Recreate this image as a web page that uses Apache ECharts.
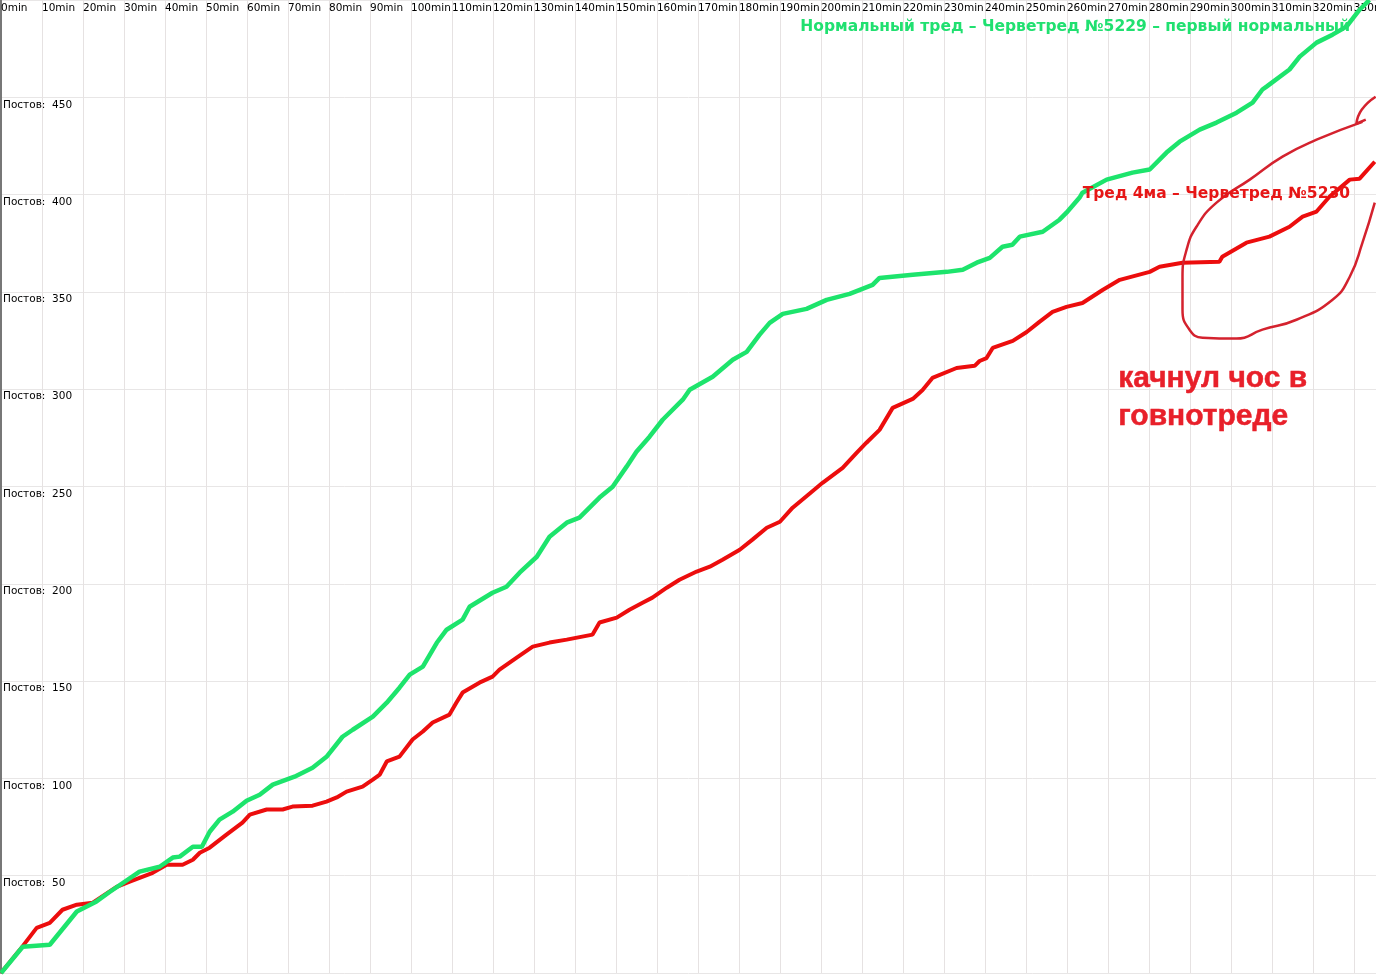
<!DOCTYPE html>
<html>
<head>
<meta charset="utf-8">
<script src="https://cdn.jsdelivr.net/npm/echarts@6/dist/echarts.min.js"></script>
<style>html,body{margin:0;padding:0;background:#fff;}#c{width:1376px;height:975px;}</style>
</head>
<body>
<div id="c"></div>
<script>
// time (minutes) / posts pairs
const normalThread = [
 [0,0],[5.3,13.5],[11.9,14.5],[18.5,31.6],[23.3,36.8],[26.4,41.5],[33.8,52.1],[38.7,54.6],[41.9,59.3],[43.6,59.8],
 [46.8,64.9],[49.0,64.9],[50.9,72.6],[53.3,78.8],[56.5,82.9],[59.9,88.5],[63.1,91.6],[66.3,96.8],[71.6,100.9],[76.0,105.5],
 [79.4,111.1],[83.3,121.4],[85.8,125.0],[90.7,131.7],[94.1,138.9],[97.2,146.6],[99.7,153.3],[102.9,157.4],[106.3,169.7],[108.7,176.4],
 [112.6,181.6],[114.3,188.2],[119.9,195.4],[123.3,198.5],[126.5,205.7],[130.7,213.9],[133.8,224.2],[138.0,231.4],[141.1,234.0],[146.0,244.3],
 [149.2,249.9],[152.6,260.2],[155.0,267.9],[158.2,275.6],[161.4,284.3],[166.3,294.6],[168.0,299.7],[173.6,306.4],[178.5,315.1],[181.9,319.2],
 [185.0,327.9],[187.5,334.1],[190.7,338.7],[196.5,341.3],[201.4,345.9],[207.0,349.0],[212.6,353.6],[214.3,357.2],[222.4,358.8],[230.7,360.3],
 [234.6,361.4],[238.0,365.0],[241.2,367.5],[244.3,373.2],[246.7,374.2],[248.5,378.4],[254.1,380.9],[258.2,387.1],[259.9,390.7],[263.1,398.5],
 [263.8,401.0],[269.7,407.7],[276.0,411.3],[280.2,412.9],[284.3,421.6],[287.5,427.2],[292.4,433.4],[296.5,437.0],[301.4,442.1],[305.3,447.3],
 [307.7,454.0],[308.7,455.5],[314.3,464.3],[316.8,470.9],[320.9,478.1],[324.8,482.2],[328.2,486.3],[331.4,495.0],[333.8,500.0]
];
const fourThread = [
 [0,0],[4.6,11.9],[8.7,23.2],[11.9,25.8],[15.0,32.5],[18.5,35.1],[22.4,36.1],[28.2,44.3],[31.4,46.9],[37.0,51.5],
 [40.4,55.6],[44.3,55.6],[46.8,58.2],[48.5,61.8],[50.9,64.4],[55.0,71.1],[58.9,77.3],[60.7,81.4],[64.8,84.0],[68.7,84.0],
 [71.1,85.5],[76.0,86.0],[79.4,88.1],[81.9,90.2],[84.3,93.2],[88.2,95.8],[90.7,99.4],[92.4,102.0],[94.1,108.7],[97.2,111.2],
 [100.4,120.0],[102.9,124.1],[105.3,128.7],[109.4,132.8],[111.1,139.0],[112.6,144.1],[116.7,149.2],[119.9,152.3],[121.6,155.9],[125.8,162.1],
 [129.7,167.7],[133.8,169.8],[138.0,171.3],[144.3,173.9],[146.0,180.1],[150.2,182.6],[153.3,186.7],[156.5,190.3],[158.9,192.9],[162.4,198.0],
 [165.5,202.1],[169.7,206.3],[172.9,208.8],[176.0,212.4],[180.2,217.5],[183.3,222.7],[186.8,228.8],[190.0,231.9],[193.1,239.1],[197.2,246.3],
 [200.4,251.9],[205.3,259.6],[208.7,267.3],[211.1,272.5],[214.3,279.1],[217.5,290.4],[222.4,295.0],[224.8,299.6],[227.2,305.8],[233.1,310.9],
 [237.5,312.0],[238.7,314.5],[240.4,316.0],[241.9,321.2],[246.8,324.8],[250.2,329.4],[253.3,334.6],[256.5,339.7],[259.9,342.3],[263.8,344.3],
 [268.7,351.0],[272.9,356.2],[280.2,360.3],[282.6,362.9],[288.2,365.0],[297.2,365.5],[297.9,368.1],[303.8,375.3],[309.4,378.4],[314.3,383.5],
 [317.5,388.7],[320.9,391.3],[324.1,399.0],[329.0,407.7],[331.4,408.2],[335.1,416.9]
];
// hand-drawn marks, in the same minutes / posts units
const scribbleHook = [[335.3,450.3],[331.9,443.6],[330.6,436.4],[332.9,438.5]];
const scribbleLoop = [
 [332.1,437.4],[320.9,428.2],[312.6,419.5],[304.6,407.7],[296.5,395.9],[291.6,383.5],[289.2,371.7],[288.2,357.8],
 [288.2,340.9],[289.9,330.6],[293.1,326.5],[301.4,326.0],[307.7,330.6],[316.0,335.7],[324.8,346.0],[329.0,357.8],
 [332.1,375.3],[335.1,395.9]
];
const xLabelSuffix = 'min';
const yLabelPrefix = 'Постов:  ';
const normalName = 'Нормальный тред – Черветред №5229 – первый нормальный';
const fourName = 'Тред 4ма – Черветред №5230';
const noteLines = ['качнул чос в', 'говнотреде'];

const chart = echarts.init(document.getElementById('c'), null, {renderer: 'canvas'});
const font = '"DejaVu Sans", Verdana, sans-serif';
const noteFont = 'bold 30px "Liberation Sans", Arial, sans-serif';
chart.setOption({
  animation: false,
  backgroundColor: '#ffffff',
  grid: {left: 1, right: 0, top: 0, bottom: 2, containLabel: false, outerBoundsMode: 'none'},
  xAxis: {
    type: 'value', position: 'top', min: 0, max: 335.4, interval: 10,
    axisLine: {show: false}, axisTick: {show: false},
    splitLine: {show: true, lineStyle: {color: '#e6e2e2', width: 1}},
    axisLabel: {
      inside: true, margin: 3, align: 'left', verticalAlign: 'top',
      color: '#000', fontFamily: font, fontSize: 10.5, showMaxLabel: false,
      formatter: v => (Math.abs(v % 10) < 1e-6 ? v + xLabelSuffix : '')
    }
  },
  yAxis: {
    type: 'value', min: 0, max: 500, interval: 50,
    axisLine: {show: true, lineStyle: {color: '#777', width: 2}}, axisTick: {show: false},
    splitLine: {show: true, lineStyle: {color: '#e8e6e6', width: 1}},
    axisLabel: {
      inside: true, margin: 2, align: 'left', verticalAlign: 'top', padding: [2, 0, 0, 0],
      color: '#000', fontFamily: font, fontSize: 10.5,
      formatter: v => (v === 0 || v === 500 ? '' : yLabelPrefix + v)
    }
  },
  series: [
    {type: 'line', data: fourThread, showSymbol: false, symbol: 'none', lineStyle: {color: '#ec0d0d', width: 4}, z: 3},
    {type: 'line', data: normalThread, showSymbol: false, symbol: 'none', lineStyle: {color: '#1de46c', width: 4.5}, z: 4},
    {type: 'line', data: scribbleHook, smooth: true, symbol: 'none', clip: false, lineStyle: {color: '#d4222e', width: 2.5}, z: 5},
    {type: 'line', data: scribbleLoop, smooth: true, symbol: 'none', clip: false, lineStyle: {color: '#d4222e', width: 2.5}, z: 5}
  ],
  graphic: [
    {type: 'text', right: 26, top: 19, z: 10, style: {text: normalName, fill: '#20e070', font: 'bold 15.5px ' + font}},
    {type: 'text', right: 26, top: 186, z: 10, style: {text: fourName, fill: '#e61616', font: 'bold 15.5px ' + font}},
    {type: 'text', left: 1118, top: 363, z: 10, style: {text: noteLines[0], fill: '#e8202a', font: noteFont, stroke: '#e8202a', lineWidth: 0.5}},
    {type: 'text', left: 1118, top: 401, z: 10, style: {text: noteLines[1], fill: '#e8202a', font: noteFont, stroke: '#e8202a', lineWidth: 0.5}}
  ]
});
</script>
</body>
</html>
